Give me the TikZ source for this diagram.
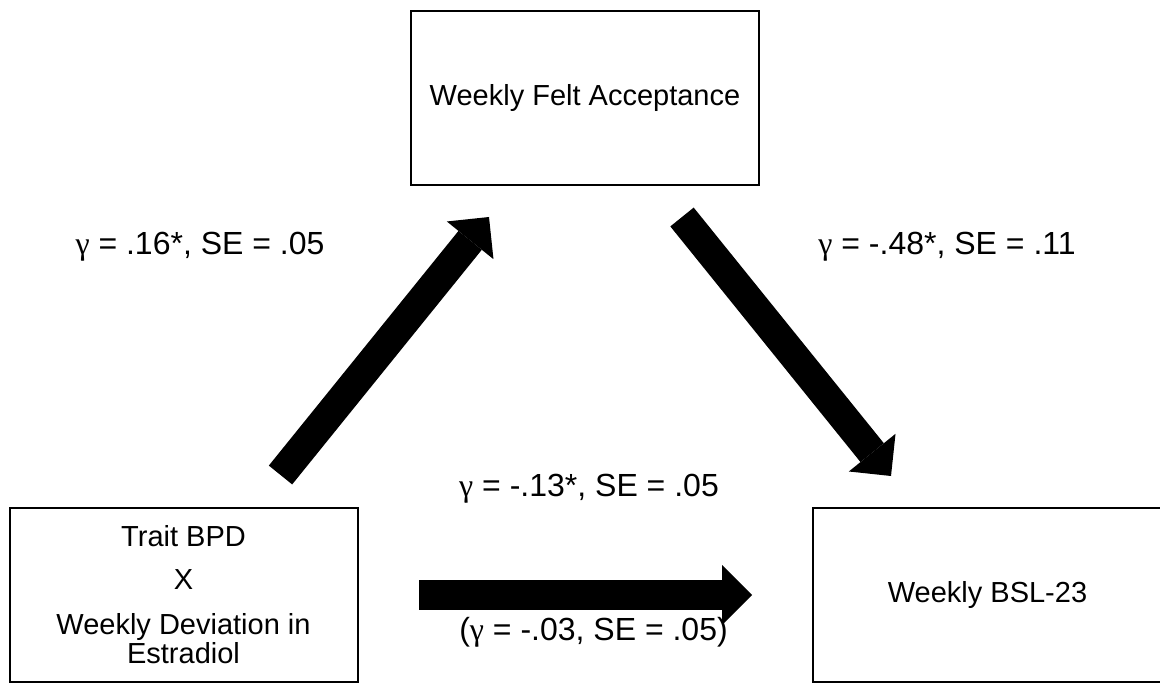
\documentclass[tikz,border=0pt]{standalone}
\usepackage{fontspec}
\setmainfont{Liberation Sans}
\newfontfamily\symfont{Liberation Serif}
\newcommand{\gam}{{\symfont γ}}
\usetikzlibrary{arrows.meta}

\begin{document}
\begin{tikzpicture}[x=0.5pt, y=-0.5pt,
        varbox/.style={draw, line width=1pt, minimum width=174pt, minimum height=87pt,
            inner sep=0pt, align=center, font=\fontsize{14.5}{14.5}\selectfont},
        patharrow/.style={line width=15pt, -{Triangle[width=30pt, length=15pt, line width=0pt]}},
        est/.style={anchor=base, font=\fontsize{16}{19}\selectfont}]

    \useasboundingbox (0,0) rectangle (1160,683);

    % Boxes:
    \node[varbox] (accept) at (585,98) {Weekly Felt Acceptance};
    \node[varbox] (trait) at (183.5,595) {Trait BPD\\[7pt]X\\[8pt]Weekly Deviation in\\Estradiol};
    \node[varbox, minimum width=177pt] (bsl) at (990,595) {};
    \node[font=\fontsize{14.5}{14.5}\selectfont] (bsltext) at (987.5,595) {Weekly BSL-23};

    % Path ends:
    \coordinate (a1) at (280.5,475);
    \coordinate (a2) at (489,217);
    \coordinate (b1) at (682,217);
    \coordinate (b2) at (891,476);
    \coordinate (c1) at (419,595);
    \coordinate (c2) at (752,595);

    % Estimates:
    \node[est] (lab1) at (200,255) {\gam{} = .16*, SE = .05};
    \node[est] (lab2) at (947,255) {\gam{} = -.48*, SE = .11};
    \node[est] (lab3) at (589,496) {\gam{} = -.13*, SE = .05};
    \node[est] (lab4) at (593.5,640) {(\gam{} = -.03, SE = .05)};

    % Paths:
    \draw[patharrow] (a1) -- (a2);
    \draw[patharrow] (b1) -- (b2);
    \draw[patharrow] (c1) -- (c2);
\end{tikzpicture}
\end{document}
